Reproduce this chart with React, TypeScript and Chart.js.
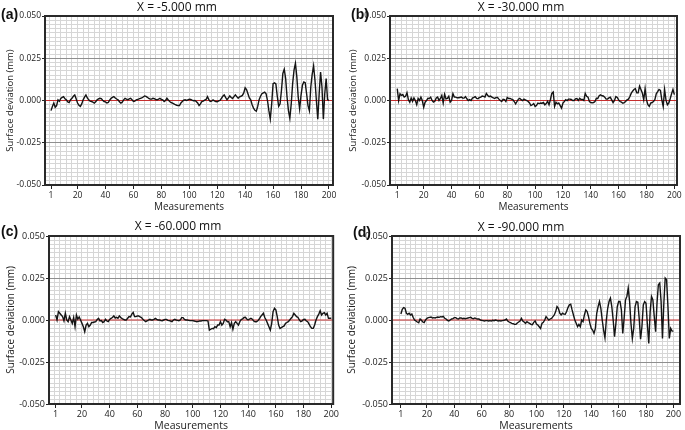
import React, { useEffect, useRef } from 'react';
import { Chart, registerables } from 'chart.js';

Chart.register(...registerables);

const FONT = '"Open Sans", "Noto Sans", sans-serif';

// ---- data ----
const xTickLabels = [1, 20, 40, 60, 80, 100, 120, 140, 160, 180, 200];
const yTickLabels = [-0.05, -0.025, 0, 0.025, 0.05];
const panelTitles = ['X = -5.000 mm', 'X = -30.000 mm', 'X = -60.000 mm', 'X = -90.000 mm'];
const panelLetters = ['(a)', '(b)', '(c)', '(d)'];
const yAxisTitle = 'Surface deviation (mm)';
const xAxisTitle = 'Measurements';

const seriesA = [
  -0.006, -0.0035, -0.0015, -0.004, -0.003, 0.0004, -0.0005, 0.0012, 0.0018, 0.0023,
  0.001, 0.0004, -0.0008, -0.0012, 0.0005, 0.0013, 0.0025, 0.0033, 0.001, -0.0015,
  -0.0028, -0.0035, -0.002, 0.0004, 0.002, 0.0033, 0.0015, 0.0004, -0.0004, -0.0006,
  -0.001, -0.0015, -0.0008, 0.0004, 0.0009, 0.0013, 0.0011, 0.0002, -0.0006, -0.0008,
  -0.0015, -0.0012, 0.0002, 0.0013, 0.0018, 0.0023, 0.0015, 0.0009, 0.0004, -0.0008,
  -0.0015, -0.001, 0.0004, 0.0013, 0.0008, 0.0004, 0.0009, 0.0013, 0.0005, -0.0006,
  -0.0004, 0.0004, 0.0006, 0.0009, 0.0013, 0.0015, 0.0021, 0.0027, 0.0024, 0.0019,
  0.0012, 0.0008, 0.0008, 0.0013, 0.0011, 0.0006, 0.0004, 0.0008, 0.0013, 0.0006,
  0.0004, -0.0006, 0.0, 0.0013, 0.0003, -0.0006, -0.0012, -0.0015, -0.002, -0.0025,
  -0.0028, -0.003, -0.003, -0.0015, -0.0006, 0.0002, 0.0004, 0.0, 0.0004, 0.0008,
  0.0006, 0.0002, -0.0001, 0.0, -0.0006, -0.0015, -0.003, -0.002, -0.0006, -0.0004,
  0.0002, 0.0006, 0.0023, 0.0005, -0.0006, -0.0004, 0.0004, -0.0002, -0.0006, -0.0008,
  -0.0002, 0.0, 0.0013, 0.0025, 0.0033, 0.0018, 0.0004, 0.0015, 0.0027, 0.0018,
  0.0012, 0.0023, 0.0033, 0.0023, 0.0013, 0.0022, 0.0025, 0.003, 0.0045, 0.0075,
  0.0065, 0.004, 0.0015, 0.0004, -0.0025, -0.0045, -0.0058, -0.0063, -0.0035, 0.0005,
  0.0025, 0.004, 0.0045, 0.005, 0.004, 0.0, -0.006, -0.011, -0.002, 0.01,
  0.0104, 0.0098, 0.0025, -0.0035, -0.002, 0.006, 0.016, 0.0185, 0.013, 0.002,
  -0.006, -0.0105, -0.002, 0.01, 0.018, 0.022, 0.014, 0.002, -0.005, 0.003,
  0.009, 0.011, 0.0105, 0.004, -0.003, -0.006, 0.008, 0.0155, 0.0205, 0.012,
  0.0, -0.011, 0.004, 0.0168, 0.008, -0.011, 0.004, 0.013, 0.0005, 0.0,
];

const seriesB = [
  0.007, 0.0, 0.004, 0.003, 0.0035, 0.002, 0.0025, 0.0046, 0.0005, -0.001,
  0.0015, -0.0005, 0.0015, 0.0, -0.0025, 0.0012, 0.0, 0.002, 0.0, -0.004,
  -0.001, 0.0, 0.0013, 0.0012, 0.002, 0.0, -0.001, -0.0005, 0.0015, 0.002,
  0.0, 0.0012, 0.003, -0.0015, 0.0037, 0.001, 0.0013, 0.0025, -0.001, 0.0,
  0.004, 0.002, 0.002, 0.0016, 0.0016, 0.0018, 0.002, 0.0015, 0.0014, 0.0023,
  0.001, 0.0, 0.0005, 0.0, 0.0014, 0.0018, 0.0023, 0.0012, 0.001, 0.0018,
  0.002, 0.0026, 0.0024, 0.002, 0.0042, 0.003, 0.0023, 0.0026, 0.002, 0.0015,
  0.0012, 0.0018, 0.0018, 0.0008, 0.0, -0.0006, 0.0007, 0.0005, -0.0006, 0.0018,
  0.0012, 0.0012, 0.0008, 0.0005, -0.0006, -0.002, -0.0006, 0.0008, 0.0013, 0.0005,
  0.0, 0.0008, 0.0004, 0.0, -0.0006, -0.0015, -0.003, -0.0025, -0.0018, -0.0035,
  -0.003, -0.0015, -0.0018, -0.0015, -0.0016, -0.0012, -0.0026, -0.0018, -0.0005, -0.0025,
  0.0006, 0.0042, 0.005, -0.0035, -0.001, -0.002, -0.0015, -0.003, -0.0045, -0.0015,
  -0.0006, 0.0005, 0.0, 0.0008, 0.0008, 0.0006, 0.0, 0.0, 0.001, 0.0012,
  0.0, 0.0013, 0.0006, 0.0006, 0.0, 0.0042, 0.0025, 0.002, -0.0006, -0.0012,
  -0.0014, -0.0012, -0.0006, 0.0013, 0.0012, 0.0028, 0.0033, 0.0028, 0.0027, 0.002,
  0.0008, 0.0008, 0.0015, 0.0019, 0.0004, -0.0012, 0.0, 0.0023, 0.0018, 0.0004,
  -0.0006, -0.001, -0.0016, -0.0012, -0.0006, 0.0004, 0.0008, 0.0022, 0.0042, 0.0055,
  0.0065, 0.007, 0.0045, 0.0045, 0.0085, 0.0065, 0.0045, 0.0004, 0.007, 0.0004,
  -0.0025, -0.0035, -0.0015, -0.0012, -0.0006, 0.0005, 0.004, 0.0052, 0.0065, 0.006,
  0.0004, -0.0035, 0.0065, 0.0002, -0.0025, -0.0015, 0.001, 0.004, 0.0065, 0.0035,
];

const seriesC = [
  0.003, 0.0, 0.005, 0.004, 0.003, 0.002, -0.0005, 0.004, 0.0, -0.001,
  0.002, 0.0, -0.002, 0.0015, -0.004, 0.003, 0.0005, 0.0018, 0.0, -0.002,
  -0.004, -0.007, -0.003, -0.002, -0.004, -0.003, -0.0015, -0.0015, -0.0012, -0.001,
  0.0003, 0.001, -0.0005, -0.0003, -0.0015, -0.001, 0.0004, -0.0006, -0.001, 0.0003,
  0.001, 0.0015, 0.0024, 0.0012, 0.0016, 0.001, 0.0024, 0.0015, 0.0008, 0.0004,
  0.0, 0.0, 0.001, 0.002, 0.0018, 0.0035, 0.0045, 0.002, 0.002, 0.0024,
  0.0024, 0.0018, 0.0015, 0.0004, -0.0003, -0.001, -0.0005, 0.0, 0.0004, 0.0,
  0.0, 0.0004, 0.001, 0.0004, 0.0, 0.0, -0.0003, -0.0004, 0.0, 0.0004,
  0.0004, -0.0002, -0.0004, -0.0006, -0.001, 0.0, 0.0004, 0.0, -0.0002, -0.0004,
  0.0, 0.0014, 0.0014, 0.0004, 0.0, 0.0, -0.0002, -0.0004, -0.0004, -0.0004,
  -0.0006, -0.0008, -0.001, -0.0008, -0.0006, -0.0006, -0.0004, -0.0004, -0.0004, -0.0004,
  -0.0006, -0.006, -0.0055, -0.005, -0.0052, -0.004, -0.0045, -0.003, -0.003, -0.001,
  -0.003, -0.002, 0.0004, 0.0, -0.001, -0.001, -0.004, -0.0015, -0.0055, -0.002,
  -0.001, -0.002, -0.003, -0.001, 0.0003, 0.0006, 0.0015, 0.0016, 0.0006, 0.0,
  0.0006, 0.001, 0.0005, -0.0006, -0.001, -0.001, -0.0005, 0.0006, 0.002, 0.003,
  0.004, 0.0015, 0.0, -0.002, -0.004, -0.006, -0.002, 0.005, 0.007, 0.006,
  0.002, -0.003, -0.005, -0.0045, -0.004, -0.0035, -0.002, -0.0015, -0.001, 0.0,
  0.001, 0.002, 0.004, 0.003, 0.002, 0.0015, 0.0, -0.001, -0.0005, 0.0003,
  0.0004, -0.0006, -0.001, -0.0025, -0.004, -0.005, -0.005, -0.003, 0.0, 0.002,
  0.0035, 0.0055, 0.003, 0.004, 0.0044, 0.003, 0.004, 0.001, 0.001, 0.001,
];

const seriesD = [
  0.0036, 0.0064, 0.0074, 0.007, 0.004, 0.0034, 0.004, 0.003, 0.0035, 0.0015,
  0.0, -0.0006, -0.0012, -0.0016, 0.0006, -0.0002, -0.0012, -0.0016, 0.0, 0.001,
  0.0014, 0.0016, 0.0018, 0.0012, 0.0014, 0.0012, 0.0016, 0.0018, 0.0016, 0.002,
  0.0018, 0.0022, 0.001, 0.0006, -0.0002, -0.0006, 0.0, 0.0006, 0.0008, 0.0014,
  0.0014, 0.0008, 0.0006, 0.0012, 0.0012, 0.0008, 0.001, 0.0008, 0.001, 0.0012,
  0.0014, 0.0016, 0.001, 0.0008, 0.0012, 0.0008, 0.0006, 0.0006, 0.0, -0.0002,
  -0.0004, -0.0006, -0.0004, -0.0004, -0.0006, -0.0004, -0.0006, -0.0002, -0.0004, 0.0,
  -0.0002, -0.0006, -0.0004, -0.0006, -0.0004, -0.0002, 0.0, 0.0006, -0.0006, -0.0012,
  -0.0016, -0.002, -0.0022, -0.0026, -0.0026, -0.0018, -0.0012, -0.0006, 0.001, -0.0006,
  -0.0012, -0.002, -0.001, -0.0016, -0.002, -0.0026, -0.0028, -0.0014, -0.0006, -0.0024,
  -0.003, -0.004, -0.005, -0.002, -0.0014, 0.0, 0.002, 0.001, 0.0, 0.0006,
  0.001, 0.002, 0.003, 0.005, 0.008, 0.007, 0.004, 0.003, 0.004, 0.0035,
  0.0034, 0.005, 0.0074, 0.009, 0.0094, 0.006, 0.003, 0.0, -0.002, -0.004,
  -0.0026, -0.004, 0.0, -0.001, 0.003, 0.006, 0.005, 0.002, -0.002, -0.005,
  -0.006, -0.008, -0.005, 0.004, 0.008, 0.011, 0.007, 0.0, -0.006, -0.0106,
  0.0, 0.007, 0.011, 0.013, 0.008, 0.0, -0.01, -0.002, 0.008, 0.011,
  0.011, 0.006, -0.008, 0.001, 0.012, 0.014, 0.019, 0.011, -0.002, -0.011,
  -0.005, 0.008, 0.011, 0.0106, 0.001, -0.0114, -0.004, 0.009, 0.011, 0.01,
  -0.003, -0.014, 0.005, 0.014, 0.012, 0.002, -0.007, 0.01, 0.021, 0.022,
  0.011, -0.011, 0.01, 0.025, 0.024, 0.008, -0.011, -0.005, -0.0066, -0.0066,
];

const allSeries = [seriesA, seriesB, seriesC, seriesD];

// ---- layout (positions only, relative to each panel box) ----
const boxes = [
  { left: 0, top: 0, w: 340, h: 215, l: 45, r: 333, t: 16, b: 185, xMin: -3.3, xMax: 202.9, yTitlePad: 5, tick: 8.5, axisTitle: 9.5, titleX: 177, titleY: 7, letterX: 1, letterY: 14 },
  { left: 340, top: 0, w: 345, h: 215, l: 50, r: 337, t: 16, b: 185, xMin: -4.2, xMax: 201.9, yTitlePad: 8, tick: 8.5, axisTitle: 9.5, titleX: 181, titleY: 7, letterX: 11, letterY: 14 },
  { left: 0, top: 215, w: 340, h: 218, l: 49, r: 335, t: 21, b: 189, xMin: -3.8, xMax: 201.4, yTitlePad: 5, tick: 9, axisTitle: 10, titleX: 178, titleY: 11, letterX: 1, letterY: 16 },
  { left: 340, top: 215, w: 345, h: 218, l: 52, r: 340, t: 21, b: 189, xMin: -5.5, xMax: 204.8, yTitlePad: 6, tick: 9, axisTitle: 10, titleX: 181, titleY: 12, letterX: 13, letterY: 17 },
];

const GRID_X_STEP = 4;
const GRID_Y_STEP = 0.0025;

const framePlugin = {
  id: 'frame',
  beforeDatasetsDraw(chart: any) {
    const { ctx, chartArea: a, scales } = chart;
    const y0 = scales.y.getPixelForValue(0);
    ctx.save();
    ctx.strokeStyle = '#c62f2f';
    ctx.lineWidth = 1.2;
    ctx.beginPath();
    ctx.moveTo(a.left, y0);
    ctx.lineTo(a.right, y0);
    ctx.stroke();
    ctx.restore();
  },
  afterDatasetsDraw(chart: any) {
    const { ctx, chartArea: a } = chart;
    ctx.save();
    ctx.strokeStyle = '#2a2a2a';
    ctx.lineWidth = 2;
    ctx.strokeRect(a.left, a.top, a.right - a.left, a.bottom - a.top);
    ctx.restore();
  },
};

function Panel({ idx }: { idx: number }) {
  const ref = useRef<HTMLCanvasElement>(null);
  const box = boxes[idx];
  useEffect(() => {
    const values = allSeries[idx];
    const points = values.map((v, i) => ({ x: i + 1, y: v }));
    const xGrid: number[] = [1];
    for (let v = 0; v <= 200; v += GRID_X_STEP) xGrid.push(v);
    xGrid.sort((p, q) => p - q);
    const nY = Math.round(0.1 / GRID_Y_STEP);
    const chart = new Chart(ref.current as HTMLCanvasElement, {
      type: 'line',
      data: {
        datasets: [
          {
            data: points,
            borderColor: '#141414',
            borderWidth: 1.4,
            pointRadius: 0,
            tension: 0,
            fill: false,
          },
        ],
      },
      options: {
        animation: false,
        responsive: false,
        events: [],
        layout: { padding: { left: 0, top: box.t, right: box.w - box.r, bottom: 0 } },
        plugins: { legend: { display: false }, tooltip: { enabled: false }, title: { display: false } },
        scales: {
          x: {
            type: 'linear',
            min: box.xMin,
            max: box.xMax,
            afterBuildTicks: (s: any) => {
              s.ticks = xGrid.map((v) => ({ value: v }));
            },
            afterFit: (s: any) => {
              s.height = box.h - box.b;
            },
            border: { display: false },
            grid: {
              color: (c: any) => (c.tick && c.tick.value === 1 ? 'rgba(0,0,0,0)' : '#d6d6d6'),
              tickColor: (c: any) => (c.tick && xTickLabels.includes(c.tick.value) ? '#222' : 'rgba(0,0,0,0)'),
              tickLength: 4,
              lineWidth: 1,
            },
            ticks: {
              autoSkip: false,
              maxRotation: 0,
              padding: 1,
              color: '#222',
              font: { family: FONT, size: box.tick },
              callback: (v: any) => (xTickLabels.includes(v) ? String(v) : ''),
            },
            title: {
              display: true,
              text: xAxisTitle,
              color: '#222',
              font: { family: FONT, size: box.axisTitle + 0.5 },
              padding: { top: 0, bottom: idx < 2 ? 2 : 1 },
            },
          },
          y: {
            type: 'linear',
            min: -0.05,
            max: 0.05,
            afterBuildTicks: (s: any) => {
              const t = [];
              for (let k = 0; k <= nY; k++) t.push({ value: -0.05 + k * GRID_Y_STEP });
              s.ticks = t;
            },
            afterFit: (s: any) => {
              s.width = box.l;
            },
            border: { display: false },
            grid: {
              color: (c: any) => {
                const k = c.index;
                if (k === 10 || k === 30) return '#8f8f8f';
                if (k === 0 || k === 40) return '#2a2a2a';
                return '#d6d6d6';
              },
              tickColor: (c: any) => (c.index % 10 === 0 ? '#222' : 'rgba(0,0,0,0)'),
              tickLength: 3,
              lineWidth: 1,
            },
            ticks: {
              autoSkip: false,
              padding: 1,
              color: '#222',
              font: { family: FONT, size: box.tick },
              callback: (_v: any, i: number) => (i % 10 === 0 ? yTickLabels[i / 10].toFixed(3) : ''),
            },
            title: {
              display: true,
              text: yAxisTitle,
              color: '#222',
              font: { family: FONT, size: box.axisTitle },
              padding: { top: box.yTitlePad, bottom: 0 },
            },
          },
        },
      },
      plugins: [framePlugin],
    } as any);
    return () => chart.destroy();
  }, [idx]);

  return (
    <>
      <canvas
        ref={ref}
        width={box.w}
        height={box.h}
        style={{ position: 'absolute', left: box.left, top: box.top, width: box.w, height: box.h }}
      />
      <div
        style={{
          position: 'absolute',
          left: box.left + box.titleX,
          top: box.top + box.titleY,
          transform: 'translate(-50%, -50%)',
          fontFamily: FONT,
          fontSize: 12,
          lineHeight: '14px',
          color: '#111',
          whiteSpace: 'nowrap',
        }}
      >
        {panelTitles[idx]}
      </div>
      <div
        style={{
          position: 'absolute',
          left: box.left + box.letterX,
          top: box.top + box.letterY,
          transform: 'translate(0, -50%)',
          fontFamily: '"Liberation Sans", Arial, sans-serif',
          fontWeight: 'bold',
          fontSize: 14,
          lineHeight: '16px',
          color: '#111',
          whiteSpace: 'nowrap',
        }}
      >
        {panelLetters[idx]}
      </div>
    </>
  );
}

export default function App() {
  return (
    <div
      style={{
        position: 'fixed',
        left: 0,
        top: 0,
        width: 685,
        height: 430,
        overflow: 'hidden',
        background: '#fff',
      }}
    >
      {boxes.map((_, i) => (
        <Panel key={i} idx={i} />
      ))}
    </div>
  );
}
